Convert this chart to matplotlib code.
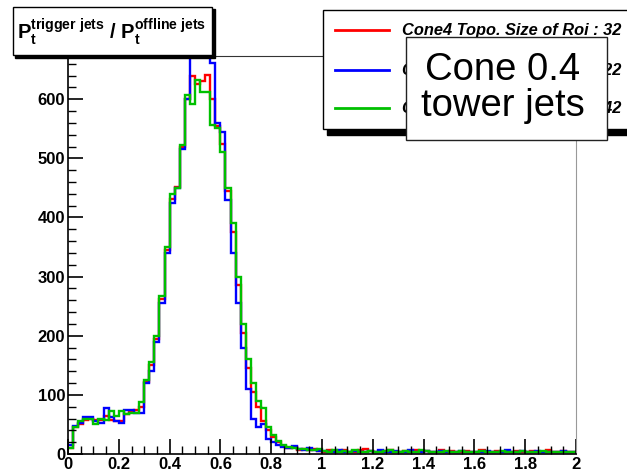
import numpy as np
import matplotlib
matplotlib.use("Agg")
import matplotlib.pyplot as plt
from matplotlib.patches import Rectangle
from matplotlib.ticker import MultipleLocator, FuncFormatter

plt.rcParams['font.family'] = ['Liberation Sans', 'DejaVu Sans']
plt.rcParams['mathtext.fontset'] = 'custom'
plt.rcParams['mathtext.rm'] = 'Liberation Sans'
plt.rcParams['mathtext.bf'] = 'Liberation Sans:bold'
plt.rcParams['mathtext.it'] = 'Liberation Sans:italic'

# ---- data: 100 bins from 0 to 2 ----
x_min, x_max, n_bins = 0.0, 2.0, 100

red_vals = [10, 45, 50, 58, 60, 58, 58, 65, 58, 55,
            55, 68, 72, 75, 80, 122, 150, 195, 262, 345,
            432, 452, 520, 600, 640, 625, 630, 641, 600, 555,
            525, 445, 375, 285, 205, 145, 105, 80, 55, 40,
            28, 20, 14, 10, 12, 7, 8, 6, 9, 5,
            4, 6, 3, 5, 7, 4, 3, 6, 8, 5,
            4, 3, 5, 6, 4, 3, 5, 4, 6, 3,
            5, 4, 3, 6, 4, 5, 3, 4, 5, 3,
            4, 6, 3, 4, 5, 3, 4, 3, 5, 4,
            3, 5, 4, 3, 6, 4, 3, 5, 4, 3]

blue_vals = [15, 48, 52, 62, 62, 55, 52, 78, 62, 55,
             52, 75, 75, 70, 70, 120, 140, 190, 255, 340,
             425, 450, 515, 600, 700, 710, 705, 700, 662, 560,
             545, 430, 340, 255, 180, 110, 60, 45, 50, 25,
             20, 15, 12, 10, 14, 8, 7, 10, 6, 5,
             5, 4, 3, 6, 4, 3, 5, 4, 3, 5,
             4, 6, 3, 4, 5, 3, 4, 6, 3, 4,
             5, 3, 4, 5, 3, 4, 3, 5, 4, 3,
             4, 3, 5, 4, 3, 4, 6, 3, 4, 5,
             3, 4, 5, 3, 4, 3, 4, 5, 3, 4]

green_vals = [10, 45, 55, 60, 60, 50, 60, 58, 72, 65,
              72, 68, 70, 70, 88, 125, 155, 200, 268, 350,
              440, 450, 522, 607, 592, 632, 613, 613, 556, 552,
              510, 450, 390, 300, 220, 160, 120, 90, 78, 45,
              32, 22, 15, 12, 10, 8, 9, 7, 6, 8,
              5, 4, 6, 3, 5, 4, 6, 3, 4, 5,
              3, 4, 5, 6, 3, 4, 5, 3, 4, 6,
              5, 3, 4, 3, 5, 4, 3, 5, 4, 3,
              4, 5, 3, 4, 3, 5, 4, 3, 4, 5,
              3, 4, 3, 5, 4, 3, 4, 3, 4, 3]

legend_labels = ["Cone4 Topo. Size of Roi : 32",
                 "Cone4 Topo. Size of Roi : 22",
                 "Cone4 Topo. Size of Roi : 42"]
title_text = r"$\mathbf{P_{t}^{trigger\ jets}\ /\ P_{t}^{offline\ jets}}$"
box_text = "Cone 0.4\ntower jets"

x_ticks = [0, 0.2, 0.4, 0.6, 0.8, 1.0, 1.2, 1.4, 1.6, 1.8, 2.0]
y_ticks = [0, 100, 200, 300, 400, 500, 600]

edges = np.linspace(x_min, x_max, n_bins + 1)

W, H = 627, 473
fig = plt.figure(figsize=(W / 100, H / 100), dpi=100)
fig.patch.set_facecolor('white')

ax = fig.add_axes([68 / W, 1 - 454 / H, (576 - 68) / W, (454 - 56) / H])

ax.stairs(red_vals, edges, color='#ff0000', lw=1.7, baseline=None)
ax.stairs(blue_vals, edges, color='#0000ff', lw=1.7, baseline=None)
ax.stairs(green_vals, edges, color='#00c000', lw=1.7, baseline=None)

ax.set_xlim(x_min, x_max)
ax.set_ylim(0, 1.05 * max(red_vals))

ax.set_xticks(x_ticks)
ax.set_yticks(y_ticks)
ax.xaxis.set_minor_locator(MultipleLocator(0.05))
ax.yaxis.set_minor_locator(MultipleLocator(20))
ax.xaxis.set_major_formatter(FuncFormatter(lambda v, p: ('%g' % v)))
ax.tick_params(axis='both', which='major', direction='in', length=11, width=1.2,
               labelsize=12, pad=2)
ax.tick_params(axis='both', which='minor', direction='in', length=6, width=1.0)
ax.tick_params(top=False, right=False)
for lab in ax.get_xticklabels() + ax.get_yticklabels():
    lab.set_fontweight('bold')

ax.spines['left'].set_linewidth(1.2)
ax.spines['bottom'].set_linewidth(1.2)
ax.spines['right'].set_color('#999999')
ax.spines['top'].set_color('#333333')

# title box with shadow
fig.patches.append(Rectangle((15 / W, 1 - 58 / H), 200 / W, 49 / H, transform=fig.transFigure,
                             facecolor='black', edgecolor='black', zorder=5))
fig.patches.append(Rectangle((13 / W, 1 - 55 / H), 199 / W, 48 / H, transform=fig.transFigure,
                             facecolor='white', edgecolor='black', lw=1.0, zorder=6))
fig.text(17 / W, 1 - 32 / H, title_text, fontsize=14.5, va='center', ha='left', zorder=7)

# legend with shadow
fig.patches.append(Rectangle((327 / W, 1 - 135 / H), 310 / W, 122 / H, transform=fig.transFigure,
                             facecolor='black', edgecolor='black', zorder=5))
fig.patches.append(Rectangle((323 / W, 1 - 129 / H), 310 / W, 119 / H, transform=fig.transFigure,
                             facecolor='white', edgecolor='black', lw=1.0, zorder=6))
for lab, col, yy in zip(legend_labels, ['#ff0000', '#0000ff', '#00c000'], [30, 70, 108]):
    fig.add_artist(plt.Line2D([335 / W, 389 / W], [1 - yy / H, 1 - yy / H], color=col, lw=2,
                              transform=fig.transFigure, zorder=7))
    fig.text(402 / W, 1 - yy / H, lab, fontsize=11.8, style='italic', fontweight='bold',
             va='center', ha='left', zorder=7)

# overlay text box
fig.patches.append(Rectangle((406 / W, 1 - 140 / H), 201 / W, 103 / H, transform=fig.transFigure,
                             facecolor='white', edgecolor='#222222', lw=1.0, zorder=8))
fig.text(503 / W, 1 - 88 / H, box_text, fontsize=27.5, va='center', ha='center',
         linespacing=1.0, zorder=9)

fig.savefig('out.png', dpi=100)
